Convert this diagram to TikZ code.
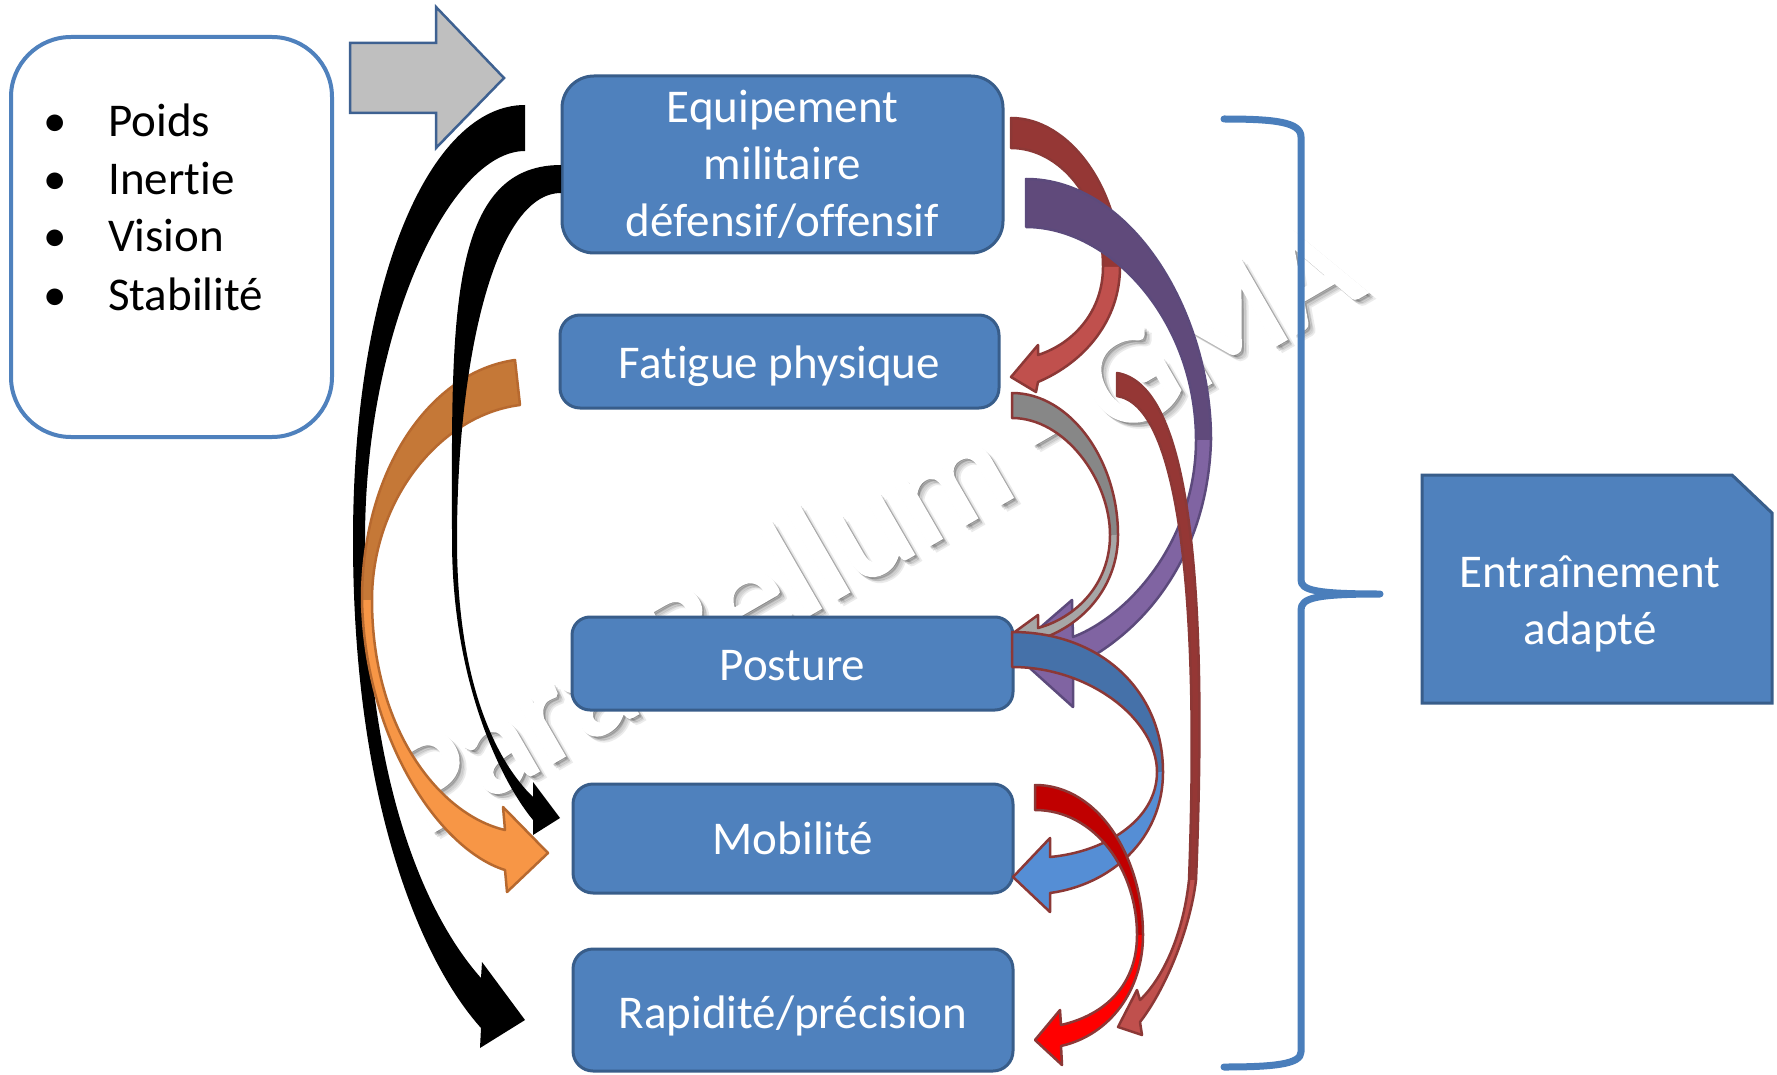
\documentclass[tikz,border=0pt]{standalone}
\usepackage{fontspec}
\setmainfont[Ligatures=NoCommon]{Carlito}
\newfontfamily\wmfam[FakeBold=2.5]{Carlito}
\definecolor{boxfill}{HTML}{4F81BD}
\definecolor{boxline}{HTML}{385D8A}
\definecolor{rdarkA}{HTML}{953735}
\definecolor{rlightA}{HTML}{C0504D}
\definecolor{redline}{HTML}{8C3836}
\definecolor{pdark}{HTML}{604A7B}
\definecolor{plight}{HTML}{8064A2}
\definecolor{pline}{HTML}{5C4A7C}
\definecolor{gdark}{HTML}{878787}
\definecolor{glight}{HTML}{A6A6A6}
\definecolor{bdark}{HTML}{4571A9}
\definecolor{blight}{HTML}{558ED5}
\definecolor{rdarkB}{HTML}{C00000}
\definecolor{rlightB}{HTML}{FF0000}
\definecolor{odark}{HTML}{C57837}
\definecolor{olight}{HTML}{F79646}
\definecolor{oline}{HTML}{B7692F}
\definecolor{grayfill}{HTML}{BFBFBF}
\definecolor{grayline}{HTML}{3E6191}
\definecolor{bracecol}{HTML}{4A7EBB}
\tikzset{
  bigfont/.style={font=\fontsize{47}{57}\selectfont},
  blockbox/.style={draw=boxline, fill=boxfill, line width=3pt, inner sep=0pt},
  boxtext/.style={bigfont, text=white, anchor=base, inner sep=0pt},
  itemtext/.style={bigfont, text=black, anchor=base west, inner sep=0pt},
  bullettext/.style={bigfont, text=black, anchor=base, inner sep=0pt},
  edgeline/.style={line width=2.5pt, line join=round},
  wmfont/.style={font=\wmfam\fontsize{142}{142}\selectfont, rotate=30, anchor=base, inner sep=0pt},
}
\begin{document}
\begin{tikzpicture}[x=1pt,y=-1pt]
\useasboundingbox[fill=white] (0,0) rectangle (1777,1075);

% watermark
\node[wmfont, text=black, opacity=0.08] (wmshadowA) at (903,570) {Para Bellum - GMA};
\node[wmfont, text=black, opacity=0.12] (wmshadowB) at (900,568) {Para Bellum - GMA};
\node[wmfont, text=black, opacity=0.15] (wmshadowC) at (898,566) {Para Bellum - GMA};
\node[wmfont, text=white] (wm) at (896,564) {Para Bellum - GMA};

% brace
\draw[bracecol, line width=7pt, line cap=round, line join=round]
  (1224,119) .. controls (1275,119) and (1301,122) .. (1301,137) -- (1301,580)
  .. controls (1301,590) and (1315,594) .. (1380,594)
  .. controls (1315,594) and (1301,598) .. (1301,610) -- (1301,1052)
  .. controls (1301,1064) and (1275,1067) .. (1224,1067);

% left box
\node[draw=boxfill, fill=white, line width=4pt, rounded corners=60pt, minimum width=321pt, minimum height=400pt] (factors) at (171.5,237) {};
\node[bullettext] (b1) at (55,137) {•};
\node[bullettext] (b2) at (55,195) {•};
\node[bullettext] (b3) at (55,252) {•};
\node[bullettext] (b4) at (55,310) {•};
\node[itemtext] (i1) at (108,137) {Poids};
\node[itemtext] (i2) at (108,195) {Inertie};
\node[itemtext] (i3) at (108,252) {Vision};
\node[itemtext] (i4) at (108,310) {Stabilité};

% gray block arrow
\draw[fill=grayfill, draw=grayline, line width=2.5pt, line join=miter]
  (350,43) -- (436,43) -- (436,7) -- (504,78) -- (436,148) -- (436,113) -- (350,113) -- cycle;

% boxes
\node[blockbox, rounded corners=32pt, minimum width=441pt, minimum height=177pt] (equip) at (782.5,164.5) {};
\node[blockbox, rounded corners=20pt, minimum width=439pt, minimum height=93pt] (fatigue) at (779.5,361.5) {};
\node[blockbox, rounded corners=18pt, minimum width=441pt, minimum height=93pt] (posture) at (792.5,663.5) {};
\node[blockbox, rounded corners=20pt, minimum width=440pt, minimum height=109pt] (mobilite) at (793,838.5) {};
\node[blockbox, rounded corners=20pt, minimum width=440pt, minimum height=122pt] (rapidite) at (793,1010) {};
\node[boxtext] (equip1) at (782.5,123) {Equipement};
\node[boxtext] (equip2) at (782.5,180) {militaire};
\node[boxtext] (equip3) at (782.5,237) {défensif/offensif};
\node[boxtext] (fatT) at (779.5,378) {Fatigue physique};
\node[boxtext] (posT) at (792.5,680) {Posture};
\node[boxtext] (mobT) at (793,854) {Mobilité};
\node[boxtext] (rapT) at (793,1028) {Rapidité/précision};

% black outer arrow
\fill[black] (525,105) .. controls (430,105) and (353,280) .. (353,540)
  .. controls (353,800) and (420,960) .. (481,1028) -- (480,1048) -- (525,1020) -- (482,962) -- (481,978)
  .. controls (425,915) and (365,780) .. (365,540)
  .. controls (365,330) and (450,151) .. (525,151) -- cycle;

% orange arrow
\fill[odark] (515,360) .. controls (430,372) and (362,470) .. (362,600) -- (372,600)
  .. controls (372,500) and (440,415) .. (520,405) -- cycle;
\fill[olight] (362,600) .. controls (365,740) and (440,850) .. (505,870) -- (507,892) -- (548,853) -- (503,807) -- (505,830)
  .. controls (440,815) and (372,730) .. (372,600) -- cycle;
\draw[oline, edgeline] (515,360) .. controls (430,372) and (362,470) .. (362,600)
  .. controls (365,740) and (440,850) .. (505,870) -- (507,892) -- (548,853) -- (503,807) -- (505,830)
  .. controls (440,815) and (372,730) .. (372,600)
  .. controls (372,500) and (440,415) .. (520,405) -- cycle;

% black inner arrow
\fill[black] (561,165) .. controls (445,165) and (452,330) .. (452,540)
  .. controls (452,680) and (500,780) .. (533,820) -- (533,835) -- (560,818) -- (533,782) -- (533,797)
  .. controls (500,765) and (457,690) .. (457,540)
  .. controls (457,360) and (495,193) .. (561,193) -- cycle;

% red arrow Equipement -> Fatigue
\fill[rdarkA] (1011,118) .. controls (1070,118) and (1120,190) .. (1120,267) -- (1103,267)
  .. controls (1103,200) and (1060,148) .. (1011,148) -- cycle;
\fill[rlightA] (1120,267) .. controls (1120,320) and (1085,362) .. (1038,382) -- (1036,392) -- (1011,377) -- (1038,345) -- (1038,355)
  .. controls (1075,343) and (1103,310) .. (1103,267) -- cycle;
\draw[redline, edgeline] (1011,118) .. controls (1070,118) and (1120,190) .. (1120,267)
  .. controls (1120,320) and (1085,362) .. (1038,382) -- (1036,392) -- (1011,377) -- (1038,345) -- (1038,355)
  .. controls (1075,343) and (1103,310) .. (1103,267)
  .. controls (1103,200) and (1060,148) .. (1011,148) -- cycle;

% purple arrow Equipement -> Posture
\fill[pdark] (1026,179) .. controls (1130,179) and (1211,310) .. (1211,440) -- (1196,440)
  .. controls (1196,320) and (1110,227) .. (1026,227) -- cycle;
\fill[plight] (1211,440) .. controls (1208,550) and (1150,630) .. (1073,667) -- (1073,707) -- (1012,652) -- (1072,600) -- (1073,637)
  .. controls (1130,615) and (1196,540) .. (1196,440) -- cycle;
\draw[pline, edgeline] (1026,179) .. controls (1130,179) and (1211,310) .. (1211,440)
  .. controls (1208,550) and (1150,630) .. (1073,667) -- (1073,707) -- (1012,652) -- (1072,600) -- (1073,637)
  .. controls (1130,615) and (1196,540) .. (1196,440)
  .. controls (1196,320) and (1110,227) .. (1026,227) -- cycle;

% gray arrow Fatigue -> Posture
\fill[gdark] (1012,393) .. controls (1070,393) and (1118,460) .. (1118,535) -- (1110,535)
  .. controls (1110,480) and (1065,418) .. (1012,418) -- cycle;
\fill[glight] (1118,535) .. controls (1118,585) and (1085,625) .. (1038,640) -- (1038,652) -- (1012,634) -- (1038,615) -- (1038,628)
  .. controls (1075,618) and (1110,585) .. (1110,535) -- cycle;
\draw[redline, edgeline] (1012,393) .. controls (1070,393) and (1118,460) .. (1118,535)
  .. controls (1118,585) and (1085,625) .. (1038,640) -- (1038,652) -- (1012,634) -- (1038,615) -- (1038,628)
  .. controls (1075,618) and (1110,585) .. (1110,535)
  .. controls (1110,480) and (1065,418) .. (1012,418) -- cycle;

% blue arrow Posture -> Mobilite
\fill[bdark] (1012,632) .. controls (1100,632) and (1163,690) .. (1163,772) -- (1157,772)
  .. controls (1157,720) and (1090,667) .. (1012,667) -- cycle;
\fill[blight] (1163,772) .. controls (1163,840) and (1110,885) .. (1050,893) -- (1050,912) -- (1013,877) -- (1050,838) -- (1050,857)
  .. controls (1105,852) and (1157,820) .. (1157,772) -- cycle;
\draw[redline, edgeline] (1012,632) .. controls (1100,632) and (1163,690) .. (1163,772)
  .. controls (1163,840) and (1110,885) .. (1050,893) -- (1050,912) -- (1013,877) -- (1050,838) -- (1050,857)
  .. controls (1105,852) and (1157,820) .. (1157,772)
  .. controls (1157,720) and (1090,667) .. (1012,667) -- cycle;

% red arrow Mobilite -> Rapidite
\fill[rdarkB] (1035,785) .. controls (1100,785) and (1143,860) .. (1143,935) -- (1137,935)
  .. controls (1137,870) and (1095,810) .. (1035,810) -- cycle;
\fill[rlightB] (1143,935) .. controls (1143,990) and (1110,1035) .. (1061,1046) -- (1062,1065) -- (1035,1040) -- (1060,1010) -- (1061,1025)
  .. controls (1105,1015) and (1137,985) .. (1137,935) -- cycle;
\draw[redline, edgeline] (1035,785) .. controls (1100,785) and (1143,860) .. (1143,935)
  .. controls (1143,990) and (1110,1035) .. (1061,1046) -- (1062,1065) -- (1035,1040) -- (1060,1010) -- (1061,1025)
  .. controls (1105,1015) and (1137,985) .. (1137,935)
  .. controls (1137,870) and (1095,810) .. (1035,810) -- cycle;

% thin red arrow Fatigue -> Rapidite
\fill[rdarkA] (1117,373) .. controls (1190,385) and (1208,580) .. (1196,880) -- (1189,880)
  .. controls (1200,590) and (1178,405) .. (1117,396) -- cycle;
\fill[rlightA] (1196,880) .. controls (1190,930) and (1165,990) .. (1140,1022) -- (1142,1035) -- (1118,1027) -- (1137,990) -- (1140,1000)
  .. controls (1163,978) and (1183,935) .. (1189,880) -- cycle;
\draw[redline, edgeline] (1117,373) .. controls (1190,385) and (1208,580) .. (1196,880)
  .. controls (1190,930) and (1165,990) .. (1140,1022) -- (1142,1035) -- (1118,1027) -- (1137,990) -- (1140,1000)
  .. controls (1163,978) and (1183,935) .. (1189,880)
  .. controls (1200,590) and (1178,405) .. (1117,396) -- cycle;

% result box
\draw[blockbox, line join=miter] (1422,475) -- (1732,475) -- (1772,513) -- (1772,703) -- (1422,703) -- cycle;
\node[boxtext] (entT1) at (1590,587) {Entraînement};
\node[boxtext] (entT2) at (1590,644) {adapté};
\end{tikzpicture}
\end{document}
